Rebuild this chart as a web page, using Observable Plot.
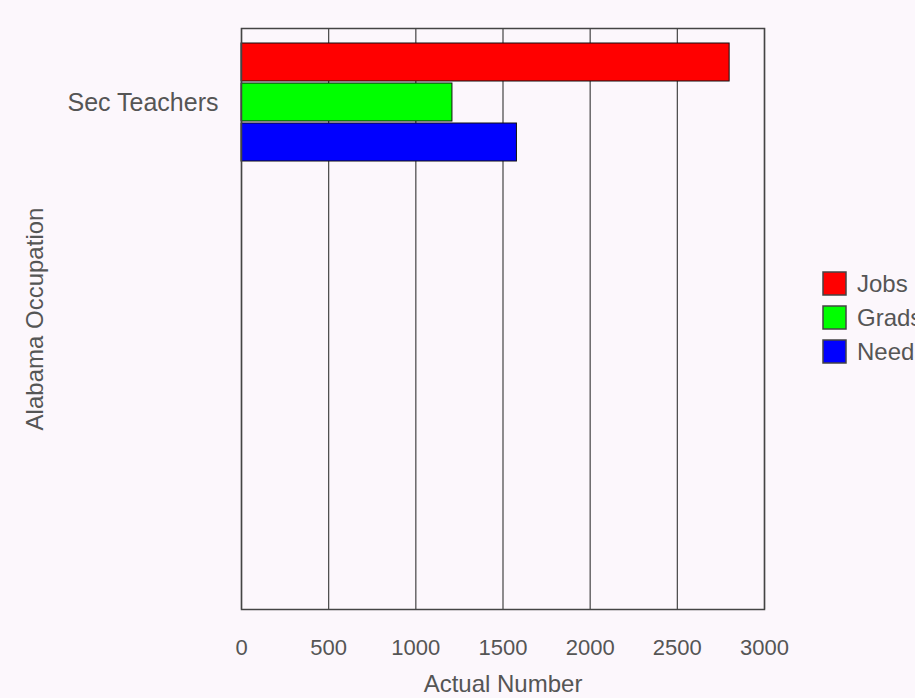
<!DOCTYPE html>
<html>
<head>
<meta charset="utf-8">
<script src="https://cdn.jsdelivr.net/npm/d3@7"></script>
<script src="https://cdn.jsdelivr.net/npm/@observablehq/plot@0.6"></script>
<style>
  html, body { margin: 0; padding: 0; background: #fcf7fc; overflow: hidden; }
  #chart { position: relative; width: 915px; height: 698px; overflow: hidden; background: #fcf7fc; font-family: "Liberation Sans", Arial, sans-serif; }
  #legend { position: absolute; left: 823px; top: 272px; white-space: nowrap; }
  #legend .lg-swatch { display: flex; align-items: center; margin: 0 0 11px 0; padding: 0; font-size: 24px; line-height: 23px; color: #555; font-family: "Liberation Sans", Arial, sans-serif; }
  #legend .lg-swatch svg { margin-right: 11px; flex-shrink: 0; }
  #legend .lg-swatch svg rect { stroke: #444; stroke-width: 1.5px; }
</style>
</head>
<body>
<div id="chart"></div>
<script>
const occupations = ["Sec Teachers"];
const series = ["Jobs", "Grads", "Needs"];
const seriesColors = ["#ff0000", "#00ff00", "#0000ff"];
const jobs = [2800];
const grads = [1210];
const needs = [1580];
const xTicks = [0, 500, 1000, 1500, 2000, 2500, 3000];
const xLabel = "Actual Number";
const yLabel = "Alabama Occupation";

const values = {Jobs: jobs, Grads: grads, Needs: needs};
const rows = [];
occupations.forEach((occ, i) => {
  series.forEach(s => rows.push({occupation: occ, series: s, value: values[s][i]}));
});
const labelRows = occupations.map(occ => ({occupation: occ, series: series[1]}));

const W = 915, H = 698;
const chart = Plot.plot({
  width: W,
  height: H,
  marginLeft: 241,
  marginRight: 151,
  marginTop: 28,
  marginBottom: 89,
  style: {background: "transparent", fontFamily: "'Liberation Sans', Arial, sans-serif", fontSize: "22px", color: "#555"},
  x: {domain: [0, 3000], ticks: xTicks},
  y: {domain: series, range: [42, 161], paddingInner: 0.05, paddingOuter: 0, axis: null},
  color: {domain: series, range: seriesColors},
  marks: [
    Plot.gridX(xTicks, {stroke: "#444", strokeOpacity: 1, strokeWidth: 1.2}),
    Plot.barX(rows, {x: "value", y: "series", fill: "series", stroke: "#111", strokeWidth: 1}),
    Plot.frame({stroke: "#444", strokeWidth: 1.5}),
    Plot.axisX(xTicks, {tickSize: 0, tickPadding: 30, tickFormat: d3.format("d"), fill: "#555", fontSize: 22, label: null}),
    Plot.text([xLabel], {text: d => d, frameAnchor: "bottom", dy: 75, lineAnchor: "middle", textAnchor: "middle", fill: "#555", fontSize: 24}),
    Plot.text([yLabel], {text: d => d, frameAnchor: "left", dx: -206, rotate: -90, lineAnchor: "middle", textAnchor: "middle", fill: "#555", fontSize: 24}),
    Plot.text(labelRows, {text: "occupation", y: "series", frameAnchor: "left", dx: -23, textAnchor: "end", lineAnchor: "middle", fill: "#555", fontSize: 25})
  ]
});
chart.style.position = "absolute";
chart.style.left = "0px";
chart.style.top = "0px";
document.getElementById("chart").appendChild(chart);

const legend = Plot.legend({
  color: {domain: series, range: seriesColors},
  legend: "swatches",
  columns: 1,
  swatchSize: 23,
  className: "lg"
});
legend.id = "legend";
document.getElementById("chart").appendChild(legend);
</script>
</body>
</html>
